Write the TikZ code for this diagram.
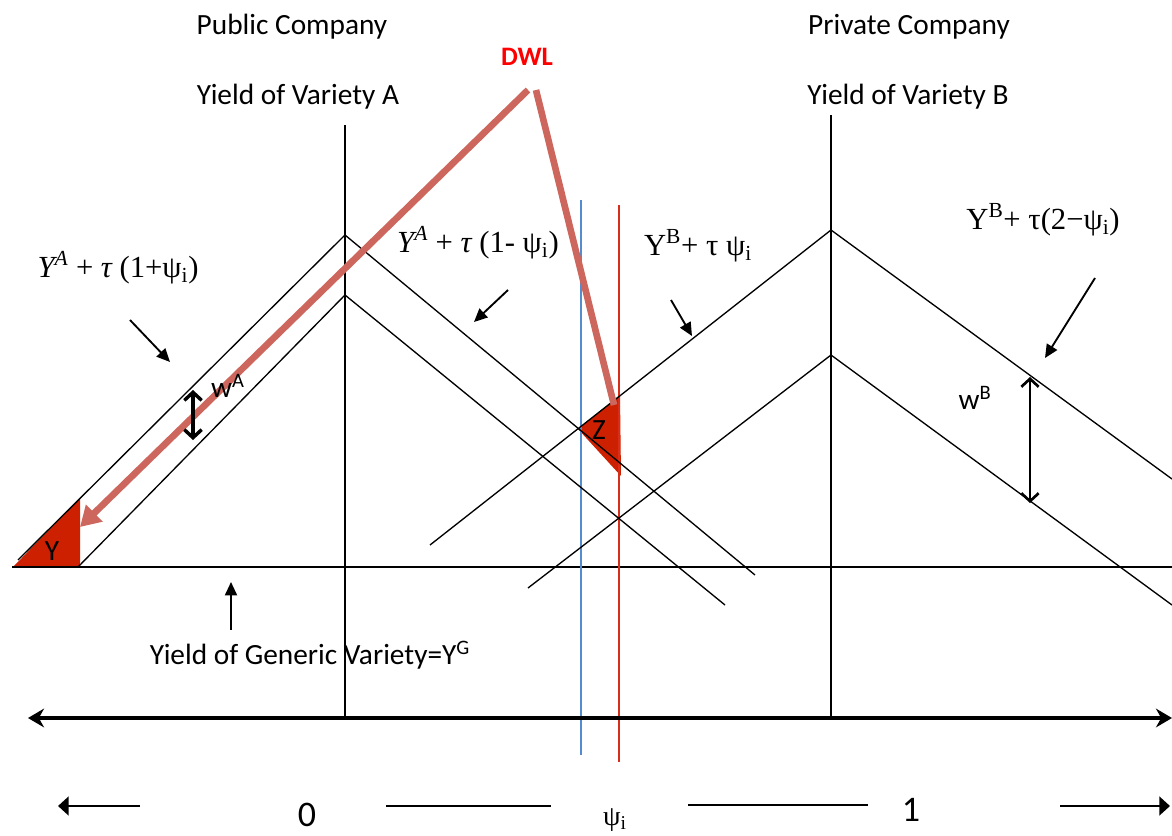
\documentclass[tikz,border=0pt]{standalone}
\usepackage{fontspec}
\setmainfont{Carlito}
\newfontfamily\formfont{Liberation Serif}
\usetikzlibrary{arrows.meta}
\definecolor{dwlsalmon}{RGB}{205,102,92}
\definecolor{areared}{RGB}{204,32,0}
\definecolor{psiblue}{RGB}{85,140,205}
\definecolor{psired}{RGB}{215,45,25}

\begin{document}
\begin{tikzpicture}[x=0.75pt,y=-0.75pt,
  yieldline/.style={black,line width=1pt},
  pointer/.style={-{Triangle[length=10pt,width=9pt]},black,line width=1.4pt},
  gap/.style={{Straight Barb[length=6pt,width=13pt]}-{Straight Barb[length=6pt,width=13pt]},line width=2.6pt},
  dwl/.style={dwlsalmon,line width=5pt},
  axis/.style={line width=2.3pt},
  label/.style={font=\fontsize{22}{26}\selectfont},
  formula/.style={font=\formfont\fontsize{23}{27}\selectfont},
  area/.style={fill=areared,draw=none}]
  % Pixel coordinates of the 1172 x 836 sheet, y counted downwards.
  \useasboundingbox (0,0) rectangle (1172,836);

  % corners of the yield triangles
  \coordinate (aUL) at (18,560);  \coordinate (aUT) at (345,235); \coordinate (aUR) at (755,575);
  \coordinate (aLL) at (78,567);  \coordinate (aLT) at (345,295); \coordinate (aLR) at (725,605);
  \coordinate (bUL) at (430,545); \coordinate (bUT) at (831,230); \coordinate (bUR) at (1172,479);
  \coordinate (bLL) at (528,588); \coordinate (bLT) at (831,355); \coordinate (bLR) at (1172,605);

  % shaded areas Y and Z
  \fill[area] (13,567) -- (80,498) -- (80,567) -- cycle;
  \fill[area] (578,429) -- (620,395) -- (621,476) -- cycle;

  % generic yield and the two company axes
  \draw[line width=1.2pt] (12,567) -- (1172,567);
  \draw[yieldline] (345,125) -- (345,718);
  \draw[yieldline] (831,115) -- (831,718);
  \draw[psiblue,line width=1pt] (581,200) -- (581,755);
  \draw[psired,line width=1pt] (619,205) -- (619,762);

  \draw[yieldline] (aUL) -- (aUT) -- (aUR);
  \draw[yieldline] (aLL) -- (aLT) -- (aLR);
  \draw[yieldline] (bUL) -- (bUT) -- (bUR);
  \draw[yieldline] (bLL) -- (bLT) -- (bLR);

  % location line
  \draw[axis,{Stealth[length=12pt,width=14pt]}-{Stealth[length=12pt,width=14pt]}] (28,718) -- (1172,718);

  % titles
  \node[label] (pubco) at (292,27) {Public Company};
  \node[label] (yieldA) at (298,97) {Yield of Variety A};
  \node[label] (privco) at (909,27) {Private Company};
  \node[label] (yieldB) at (908,97) {Yield of Variety B};
  \node[font=\bfseries\fontsize{20}{24}\selectfont,red] (dwl) at (527,57) {DWL};

  % dead weight loss pointers
  \coordinate (dwlA) at (528,90);
  \coordinate (dwlB) at (536,90);
  \draw[dwl,-{Triangle[length=15pt,width=17pt]}] (dwlA) -- (80,527);
  \draw[dwl] (dwlB) -- (614,405);

  % yield formulas and their pointers
  \node[formula] (fA1) at (118,268) {{\itshape Y}\textsuperscript{\itshape A} + {\itshape τ} (1+ψ\textsubscript{i})};
  \node[formula] (fA2) at (478,243) {{\itshape Y}\textsuperscript{\itshape A} + {\itshape τ} (1- ψ\textsubscript{i})};
  \node[formula] (fB1) at (698,246) {Y\textsuperscript{B}+ τ ψ\textsubscript{i}};
  \node[formula] (fB2) at (1043,220) {Y\textsuperscript{B}+ τ(2−ψ\textsubscript{i})};
  \coordinate (tA1) at (170,362); \coordinate (tA2) at (474,322);
  \coordinate (tB1) at (692,336); \coordinate (tB2) at (1045,358);
  \draw[pointer] (130,320) -- (tA1);
  \draw[pointer] (508,290) -- (tA2);
  \draw[pointer] (671,300) -- (tB1);
  \draw[pointer] (1095,278) -- (tB2);

  % markups
  \node[label] (wA) at (228,386) {w\textsuperscript{A}};
  \node[label] (wB) at (975,398) {w\textsuperscript{B}};
  \draw[gap] (193,390) -- (193,440);
  \draw[gap,line width=2pt] (1030,377) -- (1030,503);
  \node[label] (Y) at (52,551) {Y};
  \node[label] (Z) at (599,430) {Z};

  \node[label] (generic) at (310,655) {Yield of Generic Variety=Y\textsuperscript{G}};
  \draw[pointer] (231,630) -- (231,582);

  % scale under the axis
  \node[font=\fontsize{27}{30}\selectfont] (zero) at (307,815) {0};
  \node[formula,font=\formfont\fontsize{21}{25}\selectfont] (psi) at (615,820) {ψ\textsubscript{i}};
  \node[font=\fontsize{27}{30}\selectfont] (one) at (911,810) {1};
  \draw[line width=2.2pt,-{Triangle[length=8pt,width=14pt]}] (140,806) -- (58,806);
  \draw[line width=1.4pt] (386,806) -- (551,806);
  \draw[line width=1.4pt] (688,805) -- (868,805);
  \draw[line width=2.2pt,-{Triangle[length=8pt,width=14pt]}] (1060,806) -- (1170,806);
\end{tikzpicture}
\end{document}
